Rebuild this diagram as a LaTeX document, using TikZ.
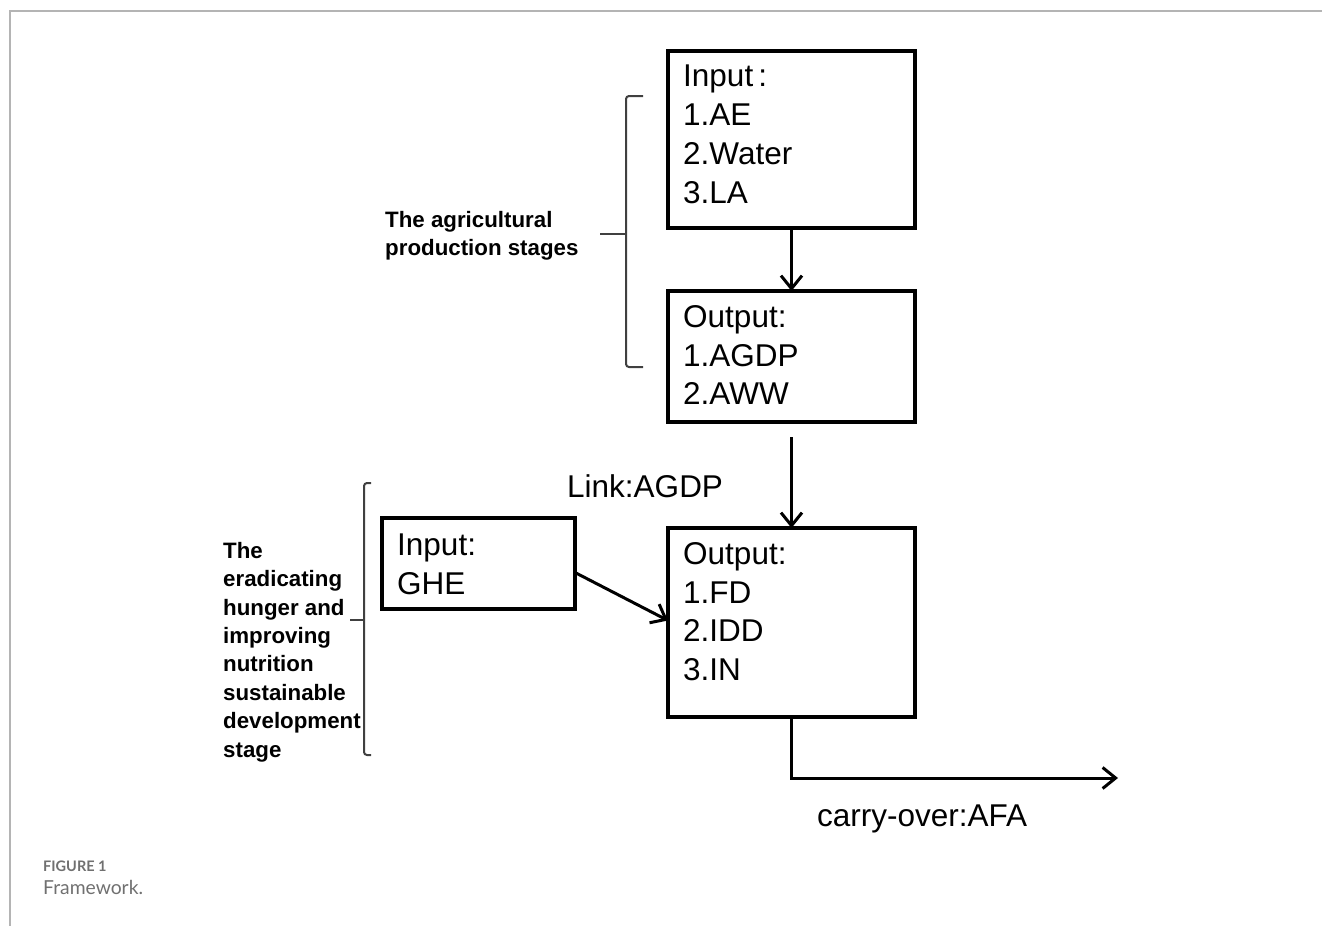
\documentclass[tikz,border=0pt]{standalone}
\usepackage{fontspec}
\setmainfont{Liberation Sans}
\newfontfamily\capfont{Lato}
\usetikzlibrary{arrows.meta,calc}
\definecolor{framegray}{HTML}{B4B4B4}
\definecolor{bracegray}{HTML}{404040}
\definecolor{capgray}{HTML}{707070}
\tikzset{
  box/.style={draw=black, line width=3.5pt, minimum width=247pt, anchor=north west, inner sep=0pt, outer sep=0pt},
  boxtext/.style={anchor=north west, inner sep=0pt, align=left, font=\fontsize{31.5}{38.8}\selectfont},
  sidetext/.style={anchor=north west, inner sep=0pt, align=left, font=\bfseries\fontsize{22.3}{28.4}\selectfont},
  conn/.style={line width=3pt, -{Straight Barb[length=13pt,width=21pt,line width=3pt]}},
  bracket/.style={draw=bracegray, line width=2pt},
}
\begin{document}
\begin{tikzpicture}[x=1pt,y=-1pt]
\useasboundingbox (0,0) rectangle (1322,926);
% frame
\draw[framegray, line width=2pt] (9,11) -- (1322,11);
\draw[framegray, line width=2pt] (10,11) -- (10,926);

% boxes
\node[box, minimum height=177pt] (in1) at (668,51) {};
\node[box, minimum height=131pt] (out1) at (668,291) {};
\node[box, minimum height=189pt] (out2) at (668,528) {};
\node[box, minimum width=193pt, minimum height=91pt] (in2) at (382,518) {};

% box texts
\node[boxtext] (in1t) at (683,65) {Input\,:\\1.AE\\2.Water\\3.LA};
\node[boxtext] (out1t) at (683,305) {Output:\\1.AGDP\\2.AWW};
\node[boxtext] (out2t) at (683,542) {Output:\\1.FD\\2.IDD\\3.IN};
\node[boxtext] (in2t) at (397,534) {Input:\\GHE};

% labels
\node[anchor=base west, inner sep=0pt, font=\fontsize{31.5}{36}\selectfont] (link) at (567,497) {Link:AGDP};
\node[anchor=base west, inner sep=0pt, font=\fontsize{31.5}{36}\selectfont] (carry) at (817,826) {carry-over:AFA};

% connectors
\coordinate (a2s) at ($(out1.south)+(0,15)$);
\coordinate (coend) at (1118,778);
\coordinate (cocorner) at (out2.south |- coend);
\draw[conn] (in1.south) -- (out1.north);
\draw[conn] (a2s) -- (out2.north);
\draw[conn] ($(in2.east)+(0,9)$) -- ($(out2.west)+(0,-2)$);
\draw[conn] (out2.south) -- (cocorner) -- (coend);

% brackets
\coordinate (b1tip) at (600,234);
\coordinate (b1mid) at (626,234);
\draw[bracket, rounded corners=3pt] (643,96) -- (626,96) -- (626,367) -- (643,367);
\draw[bracket] (b1tip) -- (b1mid);
\node[sidetext] (side1) at (385,211) {The agricultural\\production stages};

\coordinate (b2tip) at (350,620);
\coordinate (b2mid) at (364,620);
\draw[bracket, rounded corners=3pt] (371,483) -- (364,483) -- (364,755) -- (371,755);
\draw[bracket] (b2tip) -- (b2mid);
\node[sidetext] (side2) at (223,542) {The\\eradicating\\hunger and\\improving\\nutrition\\sustainable\\development\\stage};

% caption
\node[anchor=base west, inner sep=0pt, text=capgray, font=\capfont\bfseries\fontsize{14.5}{16}\selectfont] (figno) at (43,871) {FIGURE 1};
\node[anchor=base west, inner sep=0pt, text=capgray, font=\capfont\fontsize{19.3}{22}\selectfont] (figcap) at (43,894) {Framework.};
\end{tikzpicture}
\end{document}
